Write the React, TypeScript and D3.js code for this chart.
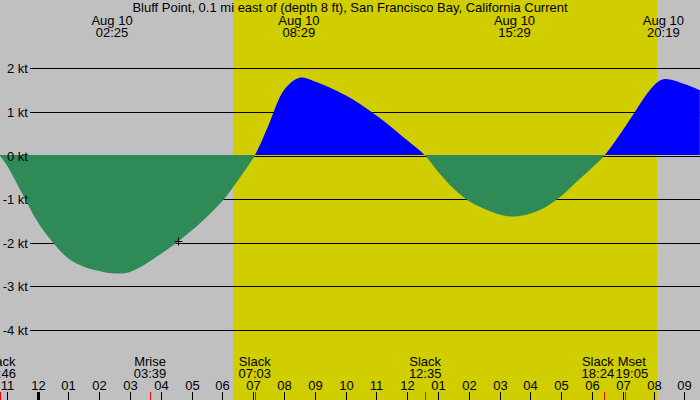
import React, { useEffect, useRef } from "react";
import * as d3 from "d3";

const title =
  "Bluff Point, 0.1 mi east of (depth 8 ft), San Francisco Bay, California Current";

// hours relative to midnight Aug 10, knots
const curveHours = [
  -1.233, -1, -0.5, 0, 0.5, 1, 1.5, 2, 2.42, 3, 4, 5, 6, 6.5, 7.05, 7.5, 8,
  8.48, 9, 10, 11, 12, 12.58, 13, 13.5, 14, 15, 15.48, 16, 16.5, 17, 17.5, 18,
  18.4, 19, 20, 20.32, 21, 21.5,
];
const curveKnots = [
  0, -0.22, -0.87, -1.52, -2.0, -2.36, -2.55, -2.65, -2.7, -2.67, -2.26, -1.72,
  -1.04, -0.57, 0, 0.7, 1.5, 1.78, 1.7, 1.38, 0.92, 0.35, 0, -0.37, -0.75,
  -1.04, -1.35, -1.4, -1.33, -1.18, -0.93, -0.6, -0.28, 0, 0.58, 1.6, 1.75,
  1.64, 1.5,
];

const yTicks = [2, 1, 0, -1, -2, -3, -4];

const maxDate = "Aug 10";
const maxTimes = ["02:25", "08:29", "15:29", "20:19"];

const eventNames = ["Slack", "Mrise", "Slack", "Slack", "Slack", "Mset"];
const eventTimes = ["22:46", "03:39", "07:03", "12:35", "18:24", "19:05"];
const eventDays = [-1, 0, 0, 0, 0, 0];

const sunrise = "06:21";
const sunset = "20:07";

const markHour = 4.57;
const markKnots = -1.97;

const W = 700;
const H = 400;
const FONT = "'Liberation Sans', Arial, sans-serif";
const FS = 13;

const toHours = (s: string, day = 0) => {
  const [hh, mm] = s.split(":").map(Number);
  return hh + mm / 60 + day * 24;
};

const TideChart: React.FC = () => {
  const svgRef = useRef<SVGSVGElement>(null);

  useEffect(() => {
    const svg = d3.select(svgRef.current);
    svg.html("");

    const x = d3.scaleLinear().domain([-1.2208, 21.506]).range([0, W]);
    const y = d3.scaleLinear().domain([-4, 2]).range([330, 68.3]);
    const base = Math.floor(y(0));

    // night / day background
    svg.append("rect").attr("width", W).attr("height", H).attr("fill", "#c0c0c0");
    svg
      .append("rect")
      .attr("x", x(toHours(sunrise)))
      .attr("width", x(toHours(sunset)) - x(toHours(sunrise)))
      .attr("height", H)
      .attr("fill", "#d0cd00");

    // grid lines
    yTicks.forEach((v) => {
      const yy = Math.round(y(v)) + 0.5;
      svg
        .append("line")
        .attr("x1", 30)
        .attr("x2", W)
        .attr("y1", yy)
        .attr("y2", yy)
        .attr("stroke", "#000");
    });

    const pts = curveHours.map((h, i) => [h, curveKnots[i]] as [number, number]);
    const area = d3
      .area<[number, number]>()
      .x((d) => x(d[0]))
      .y0(base)
      .y1((d) => y(d[1]))
      .curve(d3.curveCatmullRom.alpha(0.5));

    const defs = svg.append("defs");
    defs
      .append("clipPath")
      .attr("id", "above")
      .append("rect")
      .attr("width", W)
      .attr("height", base);
    defs
      .append("clipPath")
      .attr("id", "below")
      .append("rect")
      .attr("y", base)
      .attr("width", W)
      .attr("height", H - base);

    svg
      .append("path")
      .datum(pts)
      .attr("fill", "#0000ff")
      .attr("clip-path", "url(#above)")
      .attr("d", area);
    svg
      .append("path")
      .datum(pts)
      .attr("fill", "#2e8b57")
      .attr("clip-path", "url(#below)")
      .attr("d", area);

    // y labels on top of the fills
    yTicks.forEach((v) => {
      const yy = Math.round(y(v)) + 0.5;
      svg
        .append("text")
        .attr("x", 28)
        .attr("y", yy + 4.5)
        .attr("text-anchor", "end")
        .attr("font-family", FONT)
        .attr("font-size", FS)
        .text(`${v} kt`);
    });

    // "+" mark
    const mx = Math.round(x(markHour)) + 0.5;
    const my = Math.round(y(markKnots)) + 0.5;
    svg
      .append("path")
      .attr("d", `M${mx - 4},${my}H${mx + 4}M${mx},${my - 4}V${my + 4}`)
      .attr("stroke", "#000")
      .attr("stroke-width", 1);

    // title
    svg
      .append("text")
      .attr("x", W / 2)
      .attr("y", 12)
      .attr("text-anchor", "middle")
      .attr("font-family", FONT)
      .attr("font-size", FS)
      .text(title);

    // max current labels
    maxTimes.forEach((t) => {
      const cx = x(toHours(t));
      const g = svg
        .append("text")
        .attr("text-anchor", "middle")
        .attr("font-family", FONT)
        .attr("font-size", FS);
      g.append("tspan").attr("x", cx).attr("y", 25).text(maxDate);
      g.append("tspan").attr("x", cx).attr("y", 37).text(t);
    });

    // event labels with overlap nudge
    const halfW = 16;
    const ev = eventTimes.map((t, i) => ({
      name: eventNames[i],
      time: t,
      px: x(toHours(t, eventDays[i])),
      cx: x(toHours(t, eventDays[i])),
    }));
    ev.sort((a, b) => a.px - b.px);
    for (let i = 1; i < ev.length; i++) {
      const gap = ev[i].cx - ev[i - 1].cx;
      const need = halfW * 2 + 2;
      if (gap < need) {
        const push = (need - gap) / 2;
        ev[i - 1].cx -= push;
        ev[i].cx += push;
      }
    }
    ev.forEach((e) => {
      const g = svg
        .append("text")
        .attr("text-anchor", "middle")
        .attr("font-family", FONT)
        .attr("font-size", FS);
      g.append("tspan").attr("x", e.cx).attr("y", 366).text(e.name);
      g.append("tspan").attr("x", e.cx).attr("y", 378).text(e.time);
      svg
        .append("line")
        .attr("x1", Math.round(e.px) + 0.5)
        .attr("x2", Math.round(e.px) + 0.5)
        .attr("y1", 392)
        .attr("y2", H)
        .attr("stroke", "#ff0000");
    });

    // hour ticks
    d3.range(-1, 22).forEach((h) => {
      const px = Math.round(x(h)) + 0.5;
      const hr = ((h % 12) + 12) % 12;
      svg
        .append("line")
        .attr("x1", px)
        .attr("x2", px)
        .attr("y1", 392)
        .attr("y2", H)
        .attr("stroke", "#000")
        .attr("stroke-width", h === 0 ? 3 : 1);
      svg
        .append("text")
        .attr("x", px)
        .attr("y", 390)
        .attr("text-anchor", "middle")
        .attr("font-family", FONT)
        .attr("font-size", FS)
        .text(hr === 0 ? "12" : d3.format("02")(hr));
    });
  }, []);

  return (
    <svg
      ref={svgRef}
      width={W}
      height={H}
      style={{ position: "absolute", left: 0, top: 0, display: "block" }}
    />
  );
};

export default function App() {
  return <TideChart />;
}
